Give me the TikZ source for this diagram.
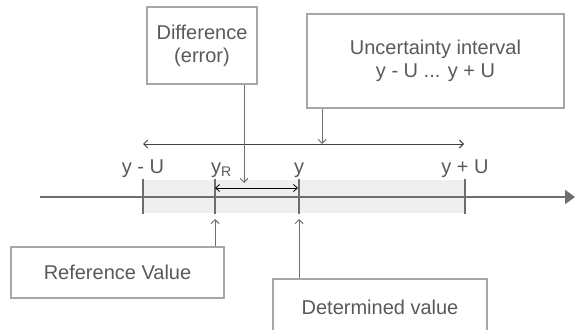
\documentclass[tikz,border=0pt]{standalone}
\usepackage{fontspec}
\setmainfont{Liberation Sans}
\usepackage{xcolor}
\usetikzlibrary{positioning,arrows.meta}
\definecolor{txtg}{HTML}{595959}
\definecolor{boxg}{HTML}{A6A6A6}
\definecolor{axg}{HTML}{6E6E6E}
\definecolor{bandg}{HTML}{EFEFEF}
\begin{document}
\begin{tikzpicture}[x=1pt,y=-1pt,
  font=\fontsize{20}{23}\selectfont,
  labelbox/.style={draw=boxg,line width=1.5pt,text=txtg,align=center,inner sep=0pt},
  pointer/.style={axg,line width=1pt,-{Straight Barb[length=4pt,width=8pt]}},
  ticklbl/.style={text=txtg,inner sep=0pt,anchor=base}]
\useasboundingbox (0,0) rectangle (575,329);
% shaded uncertainty band and axis
\fill[bandg] (143,180) rectangle (465,213);
\draw[axg,line width=2pt,-{Triangle[length=10pt,width=14pt]}] (40,197) -- (575,197);
\foreach \x/\nm in {143/lo,215/ref,299/det,465/hi}{
  \draw[axg,line width=2pt] (\x,179) -- (\x,214);
  \coordinate (\nm top) at (\x,179);
  \coordinate (\nm bot) at (\x,219);
}
% tick labels
\node[ticklbl] (lolbl) at (143,173) {y - U};
\node[ticklbl,anchor=base west] (reflbl) at (211,173) {y\textsubscript{R}};
\node[ticklbl] (detlbl) at (299,173) {y};
\node[ticklbl] (hilbl) at (465,173) {y + U};
% interval arrows
\coordinate (ul) at (143,144);
\coordinate (ur) at (464,144);
\draw[axg!60!black,line width=1pt,{Straight Barb[length=4pt,width=8pt]}-{Straight Barb[length=4pt,width=8pt]}] (ul) -- (ur);
\coordinate (dl) at (215,188);
\coordinate (dr) at (298,188);
\draw[black,line width=0.8pt,{Straight Barb[length=4pt,width=7pt]}-{Straight Barb[length=4pt,width=7pt]}] (dl) -- (dr);
% boxes
\node[labelbox,minimum width=110pt,minimum height=77pt] (diffbox) at (202,45.5) {Difference\\(error)};
\node[labelbox,minimum width=257pt,minimum height=94pt] (uncbox) at (435.5,61) {Uncertainty interval\\y - U ... y + U};
\node[labelbox,minimum width=213pt,minimum height=51pt] (refbox) at (117.5,272.5) {Reference Value};
\node[labelbox,minimum width=214pt,minimum height=56pt] (detbox) at (380,307) {Determined value};
% pointers
\coordinate (diffend) at (244,183);
\coordinate (uncend) at (322,144);
\draw[pointer] (diffbox.south -| diffend) -- (diffend);
\draw[pointer] (uncbox.south -| uncend) -- (uncend);
\draw[pointer] (refbox.north -| refbot) -- (refbot);
\draw[pointer] (detbox.north -| detbot) -- (detbot);
\end{tikzpicture}
\end{document}
